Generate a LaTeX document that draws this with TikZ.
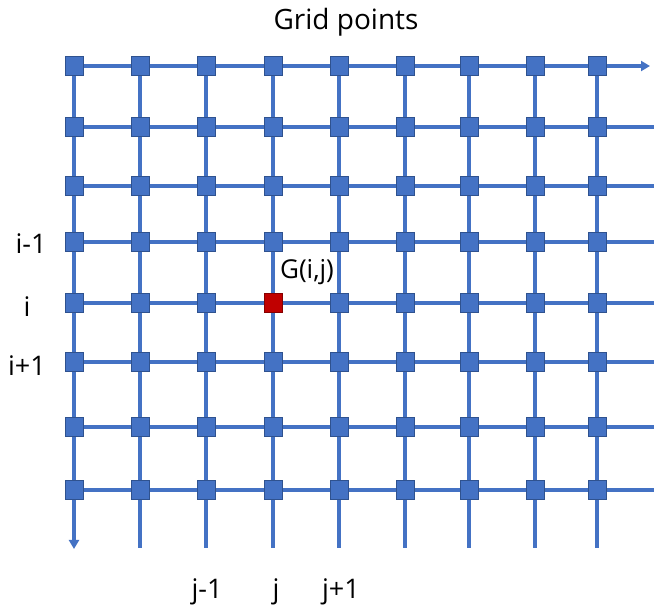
\documentclass[tikz,border=0pt]{standalone}
\usepackage{fontspec}
\setmainfont{Open Sans}
\usetikzlibrary{arrows.meta}
\definecolor{gblue}{HTML}{4472C4}
\definecolor{gdark}{HTML}{2F528F}
\definecolor{gred}{HTML}{C00000}
\begin{document}
\begin{tikzpicture}[x=1pt,y=-1pt,
  gline/.style={draw=gblue,line width=3.5pt},
  gpt/.style={draw=gdark,line width=0.8pt,fill=gblue,minimum width=18pt,minimum height=19pt,inner sep=0pt,rectangle},
  rpt/.style={gpt,fill=gred,draw=gred!70!black},
  lbl/.style={font=\fontsize{27}{29}\selectfont,inner sep=0pt,anchor=base}]
\useasboundingbox (0,0) rectangle (654,609);
% grid coordinates
\foreach \c/\x in {1/74,2/140,3/206,4/273,5/339,6/405,7/469,8/535,9/597}{
  \foreach \r/\y in {1/66,2/127,3/186,4/242,5/303,6/362,7/427,8/490}{
    \coordinate (p\r-\c) at (\x,\y);
  }
  \coordinate (b\c) at (\x,548);
}
\foreach \r/\y in {1/66,2/127,3/186,4/242,5/303,6/362,7/427,8/490}{
  \coordinate (e\r) at (654,\y);
}
\coordinate (e1) at (650,66);
\coordinate (b1) at (74,549);
% lines
\draw[gline,-{Triangle[length=9pt,width=10pt]}] (p1-1) -- (e1);
\foreach \r in {2,...,8}{ \draw[gline] (p\r-1) -- (e\r); }
\draw[gline,-{Triangle[length=9pt,width=10pt]}] (p1-1) -- (b1);
\foreach \c in {2,...,9}{ \draw[gline] (p1-\c) -- (b\c); }
% points
\foreach \c in {1,...,9}{
  \foreach \r in {1,...,8}{
    \ifnum\r=5 \ifnum\c=4 \else \node[gpt] (n\r-\c) at (p\r-\c) {}; \fi
    \else \node[gpt] (n\r-\c) at (p\r-\c) {}; \fi
  }
}
\node[rpt] (n5-4) at (p5-4) {};
% labels
\node[lbl,font=\fontsize{28}{30}\selectfont] (title) at (346,30) {Grid points};
\node[lbl] (lim1) at (31,254) {i-1};
\node[lbl] (li) at (27,317) {i};
\node[lbl] (lip1) at (27,376) {i+1};
\node[lbl,font=\fontsize{26}{28}\selectfont] (G) at (307,279) {G(i,j)};
\node[lbl] (jm1) at (207,598) {j-1};
\node[lbl] (j) at (276,598) {j};
\node[lbl] (jp1) at (341,598) {j+1};
\end{tikzpicture}
\end{document}
